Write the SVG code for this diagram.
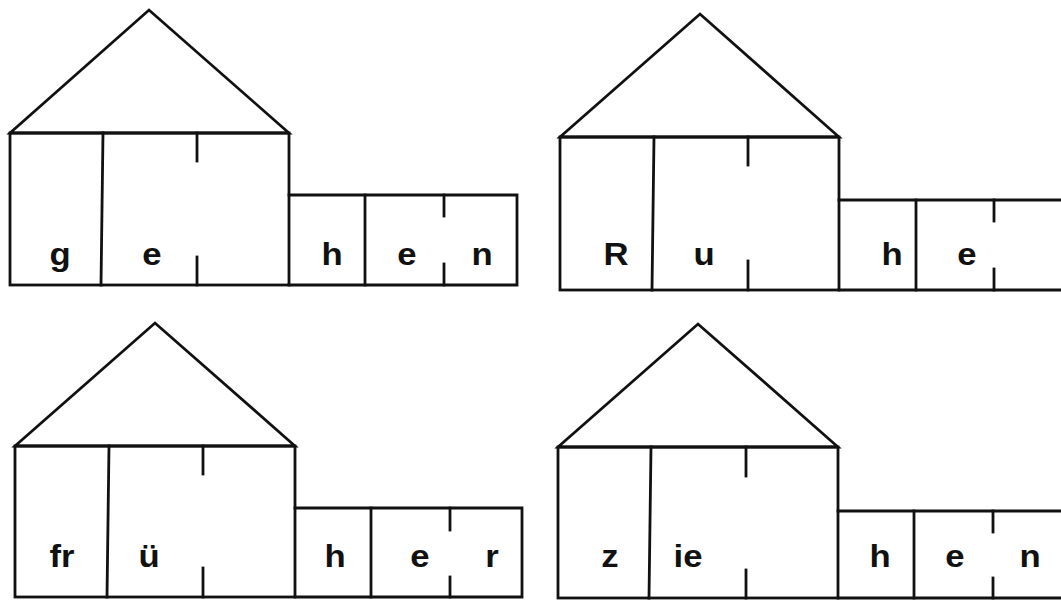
<svg xmlns="http://www.w3.org/2000/svg" width="1061" height="601" viewBox="0 0 1061 601">
  <style>
    .ln { fill: none; stroke: #111; stroke-width: 2.8; stroke-linejoin: miter; stroke-linecap: square; }
    .sy { font-family: "Liberation Sans", Arial, sans-serif; font-weight: bold; font-size: 31px; fill: #111; text-anchor: middle; }
  </style>
  <rect x="0" y="0" width="1061" height="601" fill="#fff"/>

  <!-- Silbenhaus: gehen -->
  <g id="house-gehen">
    <polygon class="ln" points="10,133 149,10 289,133"/>
    <rect class="ln" x="10" y="133" width="279" height="152"/>
    <line class="ln" x1="103" y1="133" x2="101" y2="285"/>
    <line class="ln" x1="197" y1="133" x2="197" y2="161"/>
    <line class="ln" x1="197" y1="257" x2="197" y2="285"/>
    <polyline class="ln" points="289,195 517,195 517,285 289,285"/>
    <line class="ln" x1="365" y1="195" x2="365" y2="285"/>
    <line class="ln" x1="444" y1="195" x2="444" y2="216"/>
    <line class="ln" x1="444" y1="264" x2="444" y2="285"/>
    <text class="sy" transform="translate(60,265) scale(1.12,1)">g</text>
    <text class="sy" transform="translate(152,265) scale(1.12,1)">e</text>
    <text class="sy" transform="translate(332,265) scale(1.12,1)">h</text>
    <text class="sy" transform="translate(407,265) scale(1.12,1)">e</text>
    <text class="sy" transform="translate(482,265) scale(1.12,1)">n</text>
  </g>

  <!-- Silbenhaus: Ruhe -->
  <g id="house-ruhe">
    <polygon class="ln" points="560,137 700,14 839,137"/>
    <rect class="ln" x="560" y="137" width="279" height="153"/>
    <line class="ln" x1="654" y1="137" x2="652" y2="290"/>
    <line class="ln" x1="748" y1="137" x2="748" y2="165"/>
    <line class="ln" x1="748" y1="261" x2="748" y2="290"/>
    <polyline class="ln" points="839,200 1070,200 1070,290 839,290"/>
    <line class="ln" x1="916" y1="200" x2="916" y2="290"/>
    <line class="ln" x1="994" y1="200" x2="994" y2="221"/>
    <line class="ln" x1="994" y1="269" x2="994" y2="290"/>
    <text class="sy" transform="translate(616,265) scale(1.12,1)">R</text>
    <text class="sy" transform="translate(704,265) scale(1.12,1)">u</text>
    <text class="sy" transform="translate(892,265) scale(1.12,1)">h</text>
    <text class="sy" transform="translate(967,265) scale(1.12,1)">e</text>
  </g>

  <!-- Silbenhaus: früher -->
  <g id="house-frueher">
    <polygon class="ln" points="15,446 155,323 295,446"/>
    <rect class="ln" x="15" y="446" width="280" height="151"/>
    <line class="ln" x1="109" y1="446" x2="107" y2="597"/>
    <line class="ln" x1="203" y1="446" x2="203" y2="474"/>
    <line class="ln" x1="203" y1="568" x2="203" y2="597"/>
    <polyline class="ln" points="295,508 522,508 522,597 295,597"/>
    <line class="ln" x1="371" y1="508" x2="371" y2="597"/>
    <line class="ln" x1="450" y1="508" x2="450" y2="530"/>
    <line class="ln" x1="450" y1="577" x2="450" y2="597"/>
    <text class="sy" transform="translate(62,567) scale(1.12,1)">fr</text>
    <text class="sy" transform="translate(149,567) scale(1.12,1)">ü</text>
    <text class="sy" transform="translate(335,567) scale(1.12,1)">h</text>
    <text class="sy" transform="translate(420,567) scale(1.12,1)">e</text>
    <text class="sy" transform="translate(492,567) scale(1.12,1)">r</text>
  </g>

  <!-- Silbenhaus: ziehen -->
  <g id="house-ziehen">
    <polygon class="ln" points="558,447 698,324 838,447"/>
    <rect class="ln" x="558" y="447" width="280" height="151"/>
    <line class="ln" x1="651" y1="447" x2="649" y2="598"/>
    <line class="ln" x1="746" y1="447" x2="746" y2="476"/>
    <line class="ln" x1="746" y1="570" x2="746" y2="598"/>
    <polyline class="ln" points="838,511 1070,511 1070,598 838,598"/>
    <line class="ln" x1="914" y1="511" x2="914" y2="598"/>
    <line class="ln" x1="993" y1="511" x2="993" y2="532"/>
    <line class="ln" x1="993" y1="578" x2="993" y2="598"/>
    <text class="sy" transform="translate(610,567) scale(1.12,1)">z</text>
    <text class="sy" transform="translate(688,567) scale(1.12,1)">ie</text>
    <text class="sy" transform="translate(880,567) scale(1.12,1)">h</text>
    <text class="sy" transform="translate(955,567) scale(1.12,1)">e</text>
    <text class="sy" transform="translate(1030,567) scale(1.12,1)">n</text>
  </g>
</svg>
